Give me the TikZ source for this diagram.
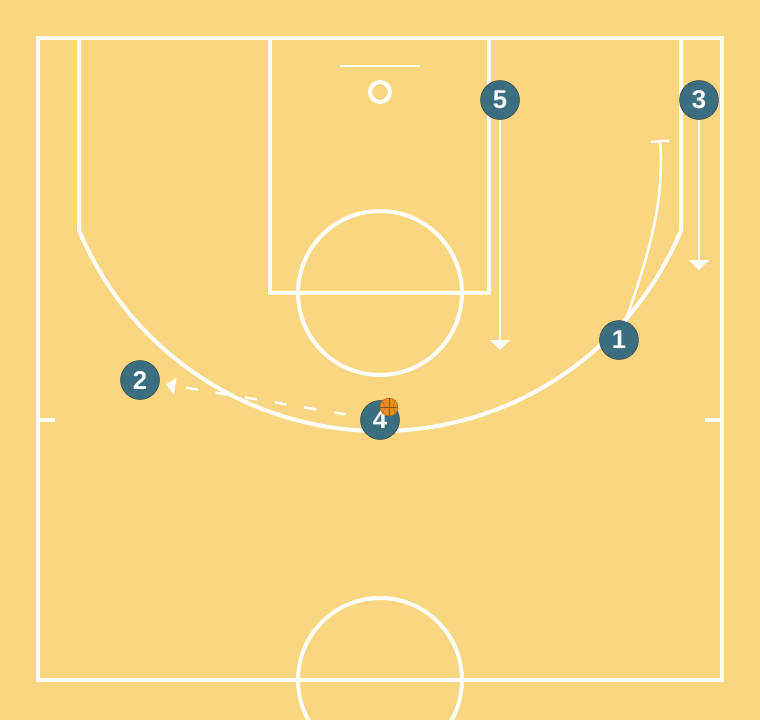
\documentclass[tikz,border=0pt]{standalone}
\usepackage{fontspec}
\setsansfont{Liberation Sans}
\usetikzlibrary{arrows.meta,backgrounds}
\definecolor{floor}{HTML}{FAD680}
\definecolor{chip}{HTML}{3A6E80}
\definecolor{leather}{HTML}{EC8E1C}
\newcommand{\courtcolor}{white}
\newcommand{\thickness}{1.2mm}
\newcommand{\movewidth}{0.75mm}
\newcommand{\chipsize}{11.7mm}

\begin{document}
\begin{tikzpicture}[x=0.3mm,y=-0.3mm,
  player/.style={circle, fill=chip, draw=black!75, line width=0.4pt, minimum size=\chipsize, inner sep=0pt, text=white, font=\sffamily\bfseries\fontsize{22}{22}\selectfont},
  ball/.style={circle, fill=leather, draw=leather!75!black, line width=0.4pt, minimum size=5.4mm, inner sep=0pt},
  move/.style={\courtcolor, line width=\movewidth, -{Triangle[width=6mm,length=3mm]}},
  screen/.style={\courtcolor, line width=\movewidth, -{Bar[width=5.6mm]}},
  pass/.style={\courtcolor, line width=0.75mm, dash pattern=on 3.6mm off 5.4mm, -{Triangle[width=4.8mm,length=2.8mm]}}]
\fill[floor] (0,0) rectangle (760,720);
\clip (0,0) rectangle (760,720);
%court
\draw[\courtcolor] [line width = \thickness] (38,38) rectangle (722,680);
\draw[\courtcolor] [line width = \thickness] (270,38) rectangle (489,293);
\draw[\courtcolor] [line width = \thickness] (380,293) circle (82);
\draw[\courtcolor] [line width = \thickness] (380,680) circle (82);
\draw[\courtcolor] [line width = \thickness] (79,38) -- (79,230) arc (157.45:22.55:326) -- (681,38);
\draw[\courtcolor] [line width = 0.7mm] (340,66) -- (420,66);
\draw[\courtcolor] [line width = \thickness] (380,92) circle (10);
\draw[\courtcolor] [line width = \thickness] (38,420) -- (55,420);
\draw[\courtcolor] [line width = \thickness] (705,420) -- (722,420);
%players
\node[player] (p1) at (619,340) {1};
\node[player] (p2) at (140,380) {2};
\node[player] (p3) at (699,100) {3};
\node[player] (p4) at (380,420) {4};
\node[player] (p5) at (500,100) {5};
\node[ball] (ball) at (389,407) {};
\draw[leather!60!black] [line width = 0.3pt] (ball.north) -- (ball.south);
\draw[leather!60!black] [line width = 0.3pt] (ball.west) -- (ball.east);
\draw[leather!60!black] [line width = 0.3pt] (ball.north west) to[bend left=30] (ball.south west);
\draw[leather!60!black] [line width = 0.3pt] (ball.north east) to[bend right=30] (ball.south east);
%moves
\coordinate (e5) at (500,350);
\coordinate (e3) at (699,270);
\coordinate (e1) at (660,140);
\draw[move] (p5) -- (e5);
\draw[move] (p3) -- (e3);
\draw[screen] (p1) .. controls (652,245) and (664,200) .. (e1);
%pass
\draw[pass] [shorten <=4.5mm, shorten >=2mm] (p4) -- (p2);
\end{tikzpicture}
\end{document}
